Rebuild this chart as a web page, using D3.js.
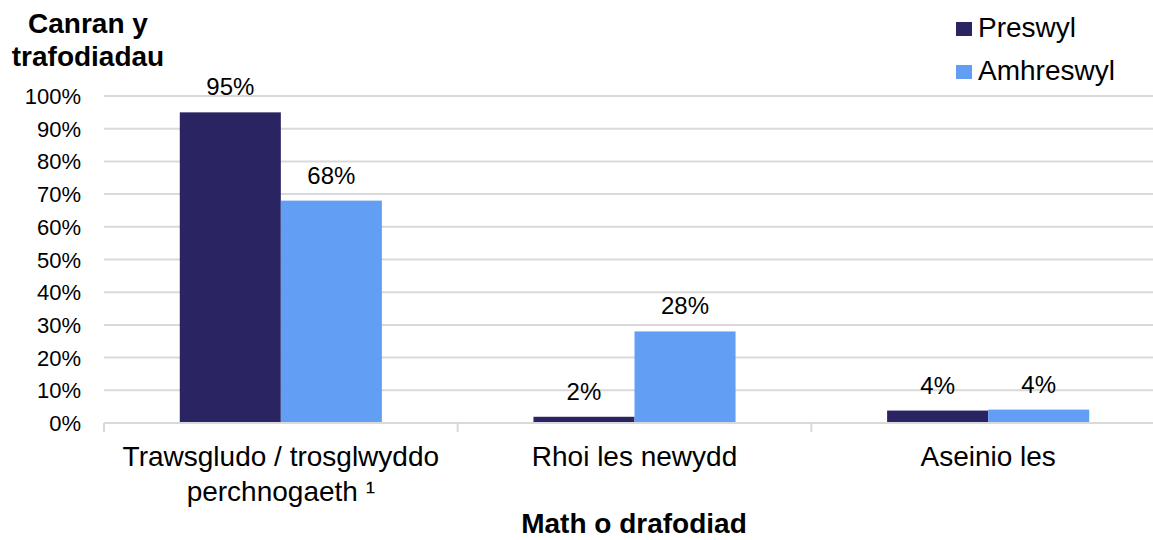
<!DOCTYPE html>
<html>
<head>
<meta charset="utf-8">
<script src="https://cdn.jsdelivr.net/npm/d3@7"></script>
<style>
  body { margin: 0; background: #fff; }
  svg { font-family: "Liberation Sans", Arial, sans-serif; }
</style>
</head>
<body>
<div id="chart"></div>
<script>
// chart data
const categories = [["Trawsgludo / trosglwyddo", "perchnogaeth \u00b9"], ["Rhoi les newydd"], ["Aseinio les"]];
const seriesNames = ["Preswyl", "Amhreswyl"];
const preswyl = [95, 1.9, 3.8];
const amhreswyl = [68, 28, 4.1];
const yTicks = [0, 10, 20, 30, 40, 50, 60, 70, 80, 90, 100];
const colours = ["#2a2462", "#629ff4"];

const width = 1153, height = 540;
const margin = {t: 96, r: -12, b: 117, l: 104};

const svg = d3.select('#chart').append('svg')
    .attr('width', width)
    .attr('height', height);

const x = d3.scaleBand()
    .domain(d3.range(categories.length))
    .range([margin.l, width - margin.r]);

const xInner = d3.scaleBand()
    .domain(seriesNames)
    .range([0, x.bandwidth()])
    .paddingInner(0)
    .paddingOuter(0.75);

const y = d3.scaleLinear()
    .domain([0, 100])
    .range([height - margin.b, margin.t]);

// gridlines
svg.append('g')
    .selectAll('line')
    .data(yTicks.slice(1))
    .enter()
    .append('line')
    .attr('x1', margin.l)
    .attr('x2', width - margin.r)
    .attr('y1', d => y(d))
    .attr('y2', d => y(d))
    .attr('stroke', '#d9d9d9')
    .attr('stroke-width', 2);

// y tick labels
svg.append('g')
    .selectAll('text')
    .data(yTicks)
    .enter()
    .append('text')
    .attr('x', 81)
    .attr('y', d => y(d) + 8)
    .attr('text-anchor', 'end')
    .attr('font-size', 22)
    .attr('fill', '#000')
    .text(d => d + '%');

// bars
const rows = categories.map((c, i) => [
    {s: seriesNames[0], v: preswyl[i], c: 0},
    {s: seriesNames[1], v: amhreswyl[i], c: 1}
]);

const groups = svg.append('g')
    .selectAll('g')
    .data(rows)
    .enter()
    .append('g')
    .attr('transform', (d, i) => `translate(${x(i)},0)`);

groups.selectAll('rect')
    .data(d => d)
    .enter()
    .append('rect')
    .attr('x', d => xInner(d.s))
    .attr('width', xInner.bandwidth())
    .attr('y', d => y(d.v))
    .attr('height', d => y(0) - y(d.v))
    .attr('fill', d => colours[d.c]);

groups.selectAll('text')
    .data(d => d)
    .enter()
    .append('text')
    .attr('x', d => xInner(d.s) + xInner.bandwidth() / 2)
    .attr('y', d => y(d.v) - 17)
    .attr('text-anchor', 'middle')
    .attr('font-size', 24)
    .attr('fill', '#000')
    .text(d => Math.round(d.v) + '%');

// x axis line and ticks
const axis = svg.append('g');
axis.append('line')
    .attr('x1', margin.l)
    .attr('x2', width - margin.r)
    .attr('y1', y(0))
    .attr('y2', y(0))
    .attr('stroke', '#d9d9d9')
    .attr('stroke-width', 2);

axis.selectAll('.tick')
    .data(d3.range(categories.length + 1))
    .enter()
    .append('line')
    .attr('x1', d => margin.l + d * x.bandwidth())
    .attr('x2', d => margin.l + d * x.bandwidth())
    .attr('y1', y(0))
    .attr('y2', y(0) + 9)
    .attr('stroke', '#d9d9d9')
    .attr('stroke-width', 2);

// category labels
svg.append('g')
    .selectAll('text')
    .data(categories)
    .enter()
    .append('text')
    .attr('text-anchor', 'middle')
    .attr('font-size', 28)
    .attr('fill', '#000')
    .each(function(d, i) {
        d3.select(this).selectAll('tspan')
            .data(d)
            .enter()
            .append('tspan')
            .attr('x', x(i) + x.bandwidth() / 2)
            .attr('y', (t, j) => 466 + j * 35)
            .text(t => t);
    });

// axis titles
svg.append('text')
    .attr('x', 634)
    .attr('y', 533)
    .attr('text-anchor', 'middle')
    .attr('font-size', 28)
    .attr('font-weight', 'bold')
    .text('Math o drafodiad');

const yTitle = svg.append('text')
    .attr('text-anchor', 'middle')
    .attr('font-size', 28)
    .attr('font-weight', 'bold');
yTitle.append('tspan').attr('x', 88).attr('y', 33).text('Canran y');
yTitle.append('tspan').attr('x', 88).attr('y', 66).text('trafodiadau');

// legend
const legend = svg.append('g')
    .selectAll('g')
    .data(seriesNames)
    .enter()
    .append('g')
    .attr('transform', (d, i) => `translate(956,${22 + i * 43})`);

legend.append('rect')
    .attr('width', 16)
    .attr('height', 14)
    .attr('fill', (d, i) => colours[i]);

legend.append('text')
    .attr('x', 22)
    .attr('y', 15)
    .attr('font-size', 28)
    .text(d => d);
</script>
</body>
</html>
